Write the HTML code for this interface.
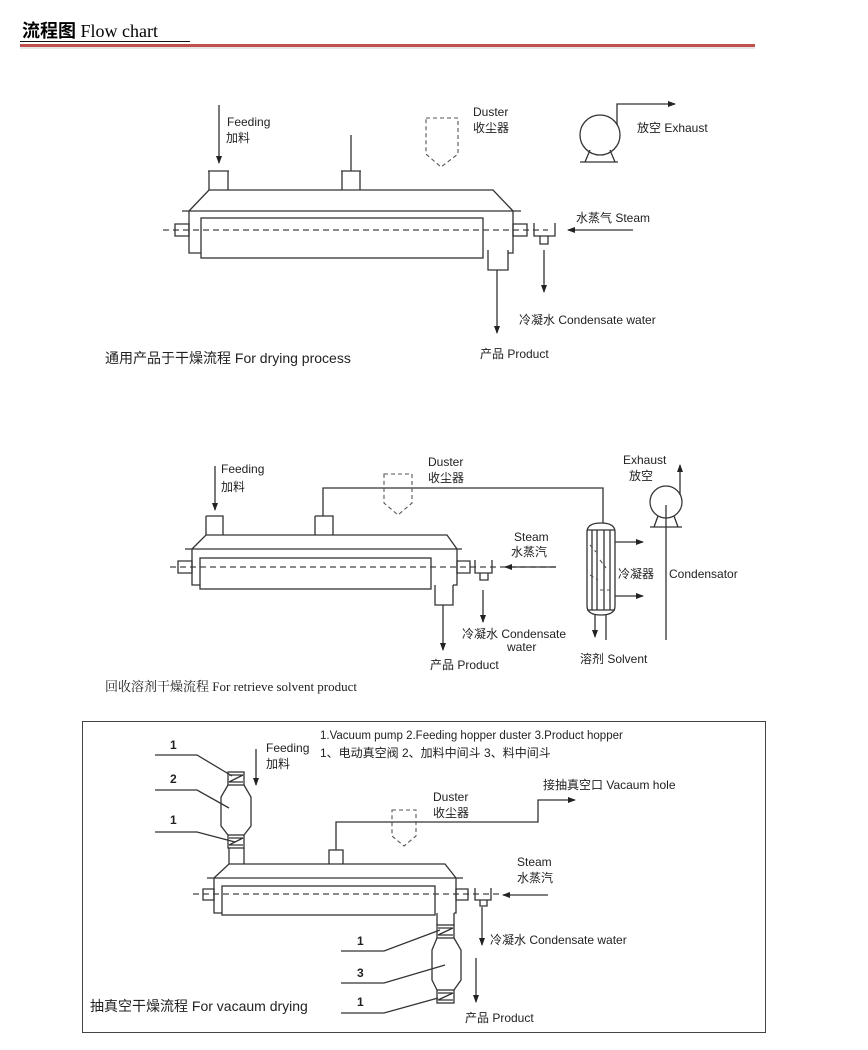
<!DOCTYPE html>
<html><head><meta charset="utf-8"><style>
html,body{margin:0;padding:0;background:#fff;}
svg{display:block;}
text{font-family:"Liberation Sans","Noto Sans CJK SC",sans-serif;fill:#222;}
.s{stroke:#333;stroke-width:1.3;fill:none;}
.d{stroke:#444;stroke-width:1.2;fill:none;stroke-dasharray:6,4;}
.dd{stroke:#555;stroke-width:1.1;fill:none;stroke-dasharray:4,3;}
</style></head><body>
<svg width="868" height="1050" viewBox="0 0 868 1050" xmlns="http://www.w3.org/2000/svg">
<defs><marker id="a" markerWidth="8" markerHeight="8" refX="7" refY="4" orient="auto" markerUnits="userSpaceOnUse"><path d="M0,1 L8,4 L0,7 Z" fill="#222"/></marker></defs>

<!-- Title -->
<text x="22" y="37" style="font-family:'Liberation Serif','Noto Serif CJK SC',serif;font-size:18px;fill:#000"><tspan font-weight="bold" style="font-family:'Noto Sans CJK SC',sans-serif">流程图</tspan> Flow chart</text>
<line x1="20" y1="41.5" x2="190" y2="41.5" stroke="#111" stroke-width="1"/>
<line x1="20" y1="45.5" x2="755" y2="45.5" stroke="#c0504d" stroke-width="3"/>
<line x1="20" y1="48" x2="755" y2="48" stroke="#ddd" stroke-width="1.5"/>

<!-- Diagram 1 -->
<g>
<line class="s" x1="219" y1="105" x2="219" y2="163" marker-end="url(#a)"/>
<text x="227" y="126" font-size="12">Feeding</text>
<text x="226" y="142" font-size="12">加料</text>
<path class="s" d="M208,171 H229 M209,171 V190 M228,171 V190"/>
<path class="s" d="M341,171 H361 M342,171 V190 M360,171 V190 M351,135 V171"/>
<path class="dd" d="M426,118 H458 V154 L441,167 L426,154 Z"/>
<text x="473" y="116" font-size="12">Duster</text>
<text x="473" y="132" font-size="12">收尘器</text>
<path class="s" d="M189,211 L209,190 H493 L513,211 M182,211 H521 M189,211 V253 H201 M513,211 V253 H508"/>
<rect class="s" x="201" y="218" width="282" height="40"/>
<line class="d" x1="163" y1="230" x2="548" y2="230"/>
<path class="s" d="M175,224 H189 V236 H175 Z M513,224 H527 V236 H513 Z"/>
<path class="s" d="M534,223 V236 H555 V223 M540,236 V244 H548 V236"/>
<path class="s" d="M488,250 V270 H508 V250"/>
<line class="s" x1="497" y1="270" x2="497" y2="333" marker-end="url(#a)"/>
<line class="s" x1="544" y1="250" x2="544" y2="292" marker-end="url(#a)"/>
<line class="s" x1="633" y1="230" x2="568" y2="230" marker-end="url(#a)"/>
<text x="576" y="222" font-size="12">水蒸气 Steam</text>
<circle class="s" cx="600" cy="135" r="20"/>
<path class="s" d="M580,162 H618 M590,150 L585,162 M610,150 L615,162"/>
<path class="s" d="M617,125 V104 H675" marker-end="url(#a)"/>
<text x="637" y="132" font-size="12">放空 Exhaust</text>
<text x="519" y="324" font-size="12">冷凝水 Condensate water</text>
<text x="480" y="358" font-size="12">产品 Product</text>
<text x="105" y="363" font-size="14">通用产品于干燥流程 For drying process</text>
</g>

<!-- Diagram 2 -->
<g>
<line class="s" x1="215" y1="466" x2="215" y2="510" marker-end="url(#a)"/>
<text x="221" y="473" font-size="12">Feeding</text>
<text x="221" y="491" font-size="12">加料</text>
<path class="s" d="M206,516 H223 V535 M206,516 V535"/>
<path class="s" d="M315,516 H333 V535 M315,516 V535 M323,516 V488 H603 V523"/>
<path class="dd" d="M384,474 H412 V503 L398,515 L384,503 Z"/>
<text x="428" y="466" font-size="12">Duster</text>
<text x="428" y="482" font-size="12">收尘器</text>
<path class="s" d="M192,549 L206,535 H447 L457,549 M185,549 H462 M192,549 V585 H200 M457,549 V585 H453"/>
<rect class="s" x="200" y="558" width="231" height="31"/>
<line class="d" x1="170" y1="567" x2="560" y2="567"/>
<path class="s" d="M178,561 H192 V573 H178 Z M457,561 H470 V573 H457 Z"/>
<path class="s" d="M475,560 V573 H492 V560 M480,573 V580 H488 V573"/>
<path class="s" d="M435,585 V605 H453 V585"/>
<line class="s" x1="443" y1="605" x2="443" y2="650" marker-end="url(#a)"/>
<line class="s" x1="483" y1="590" x2="483" y2="622" marker-end="url(#a)"/>
<line class="s" x1="556" y1="567" x2="505" y2="567" marker-end="url(#a)"/>
<text x="514" y="541" font-size="12">Steam</text>
<text x="511" y="556" font-size="12">水蒸汽</text>
<path class="s" d="M587,532 Q587,523 601,523 Q615,523 615,532 V606 Q615,615 601,615 Q587,615 587,606 Z M587,530 H615 M587,610 H615 M592,530 V610 M597,530 V610 M604,530 V610 M610,530 V610"/>
<path class="dd" d="M590,545 L596,552 M600,560 L606,568 M590,575 L598,580 M600,590 H610"/>
<line class="s" x1="615" y1="542" x2="643" y2="542" marker-end="url(#a)"/>
<line class="s" x1="615" y1="596" x2="643" y2="596" marker-end="url(#a)"/>
<line class="s" x1="595" y1="615" x2="595" y2="637" marker-end="url(#a)"/>
<line class="s" x1="606" y1="615" x2="606" y2="640"/>
<text x="618" y="578" font-size="12">冷凝器</text>
<text x="669" y="578" font-size="12">Condensator</text>
<circle class="s" cx="666" cy="502" r="16"/>
<path class="s" d="M650,527 H682 M658,516 L654,527 M674,516 L678,527 M666,505 V640"/>
<line class="s" x1="680" y1="495" x2="680" y2="465" marker-end="url(#a)"/>
<text x="623" y="464" font-size="12">Exhaust</text>
<text x="629" y="480" font-size="12">放空</text>
<text x="462" y="638" font-size="12">冷凝水 Condensate</text>
<text x="507" y="651" font-size="12">water</text>
<text x="430" y="669" font-size="12">产品 Product</text>
<text x="580" y="663" font-size="12">溶剂 Solvent</text>
<text x="105" y="691" style="font-family:'Liberation Serif','Noto Serif CJK SC',serif;font-size:13px">回收溶剂干燥流程  For retrieve solvent product</text>
</g>

<!-- Diagram 3 -->
<g>
<rect x="82.5" y="721.5" width="683" height="311" fill="none" stroke="#444" stroke-width="1"/>
<text x="320" y="739" font-size="11.5">1.Vacuum pump 2.Feeding hopper duster 3.Product hopper</text>
<text x="320" y="757" font-size="12">1、电动真空阀 2、加料中间斗 3、料中间斗</text>
<line class="s" x1="256" y1="749" x2="256" y2="785" marker-end="url(#a)"/>
<text x="266" y="752" font-size="12">Feeding</text>
<text x="266" y="768" font-size="12">加料</text>
<!-- feeding hopper -->
<rect class="s" x="228" y="772" width="16" height="13"/>
<path class="s" d="M229,775 H243 L229,782 H243"/>
<path class="s" d="M228,785 L221,797 V826 L228,835 M244,785 L251,797 V826 L244,835"/>
<rect class="s" x="228" y="835" width="16" height="13"/>
<path class="s" d="M229,838 H243 L229,845 H243"/>
<path class="s" d="M229,848 V864 M244,848 V864"/>
<!-- body -->
<path class="s" d="M214,878 L229,864 H445 L456,878 M207,878 H463 M214,878 V913 H222 M456,878 V913 H454"/>
<rect class="s" x="222" y="886" width="213" height="29"/>
<line class="d" x1="193" y1="894" x2="500" y2="894"/>
<path class="s" d="M203,889 H214 V900 H203 Z M456,889 H468 V900 H456 Z"/>
<path class="s" d="M475,888 V900 H491 V888 M480,900 V906 H487 V900"/>
<path class="s" d="M329,864 V850 H343 V864 M336,850 V822 H538 V800 H575" marker-end="url(#a)"/>
<text x="543" y="789" font-size="12">接抽真空口 Vacaum hole</text>
<path class="dd" d="M392,810 H416 V836 L404,846 L392,836 Z"/>
<text x="433" y="801" font-size="12">Duster</text>
<text x="433" y="817" font-size="12">收尘器</text>
<!-- product hopper -->
<path class="s" d="M437,913 V925 M454,913 V925"/>
<rect class="s" x="437" y="925" width="17" height="13"/>
<path class="s" d="M438,928 H453 L438,935 H453"/>
<path class="s" d="M437,938 L432,950 V980 L437,990 M454,938 L461,950 V980 L454,990"/>
<rect class="s" x="437" y="990" width="17" height="13"/>
<path class="s" d="M438,993 H453 L438,1000 H453"/>
<line class="s" x1="476" y1="958" x2="476" y2="1002" marker-end="url(#a)"/>
<line class="s" x1="482" y1="907" x2="482" y2="945" marker-end="url(#a)"/>
<line class="s" x1="548" y1="895" x2="503" y2="895" marker-end="url(#a)"/>
<text x="517" y="866" font-size="12">Steam</text>
<text x="517" y="882" font-size="12">水蒸汽</text>
<text x="490" y="944" font-size="12">冷凝水 Condensate water</text>
<text x="465" y="1022" font-size="12">产品 Product</text>
<!-- leaders -->
<g font-size="12" font-weight="bold">
<text x="170" y="749">1</text><text x="170" y="783">2</text><text x="170" y="824">1</text>
<text x="357" y="945">1</text><text x="357" y="977">3</text><text x="357" y="1006">1</text>
</g>
<path class="s" stroke-width="1" d="M155,755 H197 L232,776 M155,790 H197 L229,808 M155,832 H197 L235,842"/>
<path class="s" stroke-width="1" d="M341,951 H384 L440,930 M341,983 H384 L445,965 M341,1013 H384 L438,998"/>
<text x="90" y="1011" font-size="14">抽真空干燥流程 For vacaum drying</text>
</g>
</svg>
</body></html>
